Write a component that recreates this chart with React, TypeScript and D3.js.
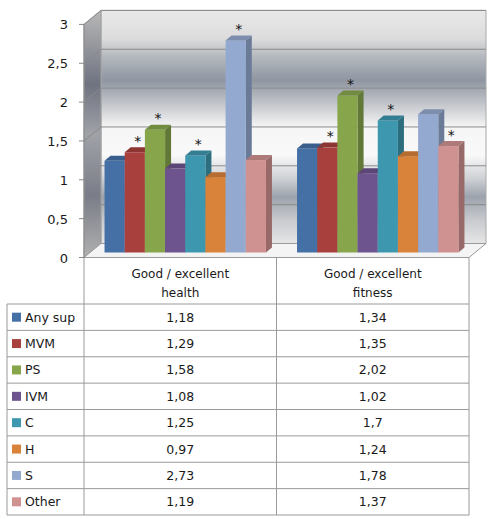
import * as d3 from "d3";
import React from "react";

// chart data
const groups = ["Good / excellent health", "Good / excellent fitness"];
const groupLines = [["Good / excellent", "health"], ["Good / excellent", "fitness"]];
const series = ["Any sup", "MVM", "PS", "IVM", "C", "H", "S", "Other"];
const healthValues = [1.18, 1.29, 1.58, 1.08, 1.25, 0.97, 2.73, 1.19];
const fitnessValues = [1.34, 1.35, 2.02, 1.02, 1.7, 1.24, 1.78, 1.37];
const healthLabels = ["1,18", "1,29", "1,58", "1,08", "1,25", "0,97", "2,73", "1,19"];
const fitnessLabels = ["1,34", "1,35", "2,02", "1,02", "1,7", "1,24", "1,78", "1,37"];
const healthSig = [false, true, true, false, true, false, true, false];
const fitnessSig = [false, true, true, false, true, false, false, true];
const yTicks = [0, 0.5, 1, 1.5, 2, 2.5, 3];
const colours = ["#4470a6", "#a8413e", "#87a64b", "#6e548f", "#3d97ae", "#d9823a", "#94a9d0", "#d09291"];

const FONT = "'DejaVu Sans', Verdana, sans-serif";

export default function App() {
    const width = 490;
    const height = 519;

    // 3d geometry
    const left = 84;
    const right = 469;
    const base = 257.5;
    const depthX = 17;
    const depthY = -14;
    const barOffX = 5;
    const barOffY = -5;
    const barDX = 6;
    const barDY = -5;

    const y = d3.scaleLinear().domain([0, 3]).range([base, base - 3 * 77.7]);
    const x0 = d3.scaleBand<string>().domain(groups).range([left, right]);
    const x1 = d3.scaleBand<string>().domain(series).range([0, x0.bandwidth()]).paddingOuter(0.77);

    const values = [healthValues, fitnessValues];
    const sigs = [healthSig, fitnessSig];
    const labels = [healthLabels, fitnessLabels];

    const topY = y(3);

    // table
    const tableLeft = 7;
    const headerTop = base;
    const headerBottom = 304;
    const rowH = (515 - headerBottom) / series.length;

    const wallPts = `${left + depthX},${topY + depthY} ${right + depthX},${topY + depthY} ${right + depthX},${base + depthY} ${left + depthX},${base + depthY}`;
    const sidePts = `${left},${topY} ${left + depthX},${topY + depthY} ${left + depthX},${base + depthY} ${left},${base}`;
    const floorPts = `${left},${base} ${left + depthX},${base + depthY} ${right + depthX},${base + depthY} ${right},${base}`;

    return (
        <svg width={width} height={height} style={{ position: "absolute", left: 0, top: 0, background: "#fff" }}>
            <defs>
                <linearGradient id="wall" x1="0" y1="0" x2="0" y2="1">
                    <stop offset="0" stopColor="#e9e9e9" />
                    <stop offset="0.12" stopColor="#dcdcdc" />
                    <stop offset="0.2" stopColor="#b4b8be" />
                    <stop offset="0.3" stopColor="#8f96a2" />
                    <stop offset="0.4" stopColor="#c2c5ca" />
                    <stop offset="0.5" stopColor="#f6f6f6" />
                    <stop offset="0.62" stopColor="#f9f9f9" />
                    <stop offset="0.72" stopColor="#cfd1d5" />
                    <stop offset="0.8" stopColor="#9ca2ac" />
                    <stop offset="0.9" stopColor="#c8cace" />
                    <stop offset="1" stopColor="#e6e6e6" />
                </linearGradient>
                <linearGradient id="side" x1="0" y1="0" x2="0" y2="1">
                    <stop offset="0" stopColor="#b8b8b8" />
                    <stop offset="0.3" stopColor="#6f7380" />
                    <stop offset="0.5" stopColor="#a0a2a8" />
                    <stop offset="0.75" stopColor="#7a7d88" />
                    <stop offset="1" stopColor="#b0b0b0" />
                </linearGradient>
            </defs>

            {/* walls */}
            <polygon points={wallPts} fill="url(#wall)" stroke="#a8a8a8" strokeWidth={1} />
            <polygon points={sidePts} fill="url(#side)" stroke="#a0a0a0" strokeWidth={1} />
            <polygon points={floorPts} fill="#f4f4f4" stroke="#9a9a9a" strokeWidth={1} />

            {/* gridlines */}
            {yTicks.filter(t => t > 0).map(t => (
                <g key={`g${t}`}>
                    <line x1={left + depthX} x2={right + depthX} y1={y(t) + depthY} y2={y(t) + depthY} stroke="#8a8a8a" strokeWidth={1} />
                    <line x1={left} x2={left + depthX} y1={y(t)} y2={y(t) + depthY} stroke="#8a8a8a" strokeWidth={1} />
                </g>
            ))}

            {/* axis */}
            <line x1={left} x2={left} y1={topY} y2={base} stroke="#888" />
            {yTicks.map(t => (
                <g key={`t${t}`}>
                    <line x1={left - 5} x2={left} y1={y(t)} y2={y(t)} stroke="#888" />
                    <text x={68} y={y(t) + 5} textAnchor="end" fontFamily={FONT} fontSize={13} fill="#1a1a1a">
                        {String(t).replace(".", ",")}
                    </text>
                </g>
            ))}

            {/* bars */}
            {groups.map((g, gi) => (
                <g key={g}>
                    {series.map((s, si) => {
                        const v = values[gi][si];
                        const bx = (x0(g) as number) + (x1(s) as number) + barOffX;
                        const bw = x1.bandwidth();
                        const by0 = base + barOffY;
                        const by1 = y(v) + barOffY;
                        const c = colours[si];
                        const top = `${bx},${by1} ${bx + barDX},${by1 + barDY} ${bx + bw + barDX},${by1 + barDY} ${bx + bw},${by1}`;
                        const side = `${bx + bw},${by1} ${bx + bw + barDX},${by1 + barDY} ${bx + bw + barDX},${by0 + barDY} ${bx + bw},${by0}`;
                        return (
                            <g key={s}>
                                <polygon points={side} fill={d3.color(c)!.darker(0.9).toString()} />
                                <rect x={bx} y={by1} width={bw} height={by0 - by1} fill={c} />
                                <polygon points={top} fill={d3.color(c)!.darker(0.5).toString()} />
                                {sigs[gi][si] && (
                                    <text x={bx + bw / 2 + 3} y={by1 + barDY - 8.5 + 7} textAnchor="middle" fontFamily={FONT} fontSize={14} fill="#111">*</text>
                                )}
                            </g>
                        );
                    })}
                </g>
            ))}

            {/* data table */}
            <g stroke="#9a9a9a" strokeWidth={1} fill="none">
                <line x1={left} x2={left} y1={headerTop} y2={515} />
                <line x1={right} x2={right} y1={headerTop} y2={515} />
                <line x1={(x0(groups[1]) as number)} x2={(x0(groups[1]) as number)} y1={headerTop} y2={515} />
                <line x1={tableLeft} x2={tableLeft} y1={headerBottom} y2={515} />
                {d3.range(series.length + 1).map(i => (
                    <line key={`r${i}`} x1={tableLeft} x2={right} y1={headerBottom + i * rowH} y2={headerBottom + i * rowH} />
                ))}
            </g>
            {groups.map((g, gi) => (
                <text key={`h${g}`} textAnchor="middle" fontFamily={FONT} fontSize={12} fill="#1a1a1a">
                    {groupLines[gi].map((ln, li) => (
                        <tspan key={li} x={(x0(g) as number) + x0.bandwidth() / 2} y={278 + li * 19}>{ln}</tspan>
                    ))}
                </text>
            ))}
            {series.map((s, si) => {
                const cy = headerBottom + si * rowH + rowH / 2;
                return (
                    <g key={`row${s}`}>
                        <rect x={12} y={cy - 4.5} width={9} height={9} fill={colours[si]} />
                        <text x={25} y={cy + 4.5} fontFamily={FONT} fontSize={12.5} fill="#1a1a1a">{s}</text>
                        {groups.map((g, gi) => (
                            <text key={g} x={(x0(g) as number) + x0.bandwidth() / 2} y={cy + 4.5} textAnchor="middle" fontFamily={FONT} fontSize={12.5} fill="#1a1a1a">
                                {labels[gi][si]}
                            </text>
                        ))}
                    </g>
                );
            })}
        </svg>
    );
}
